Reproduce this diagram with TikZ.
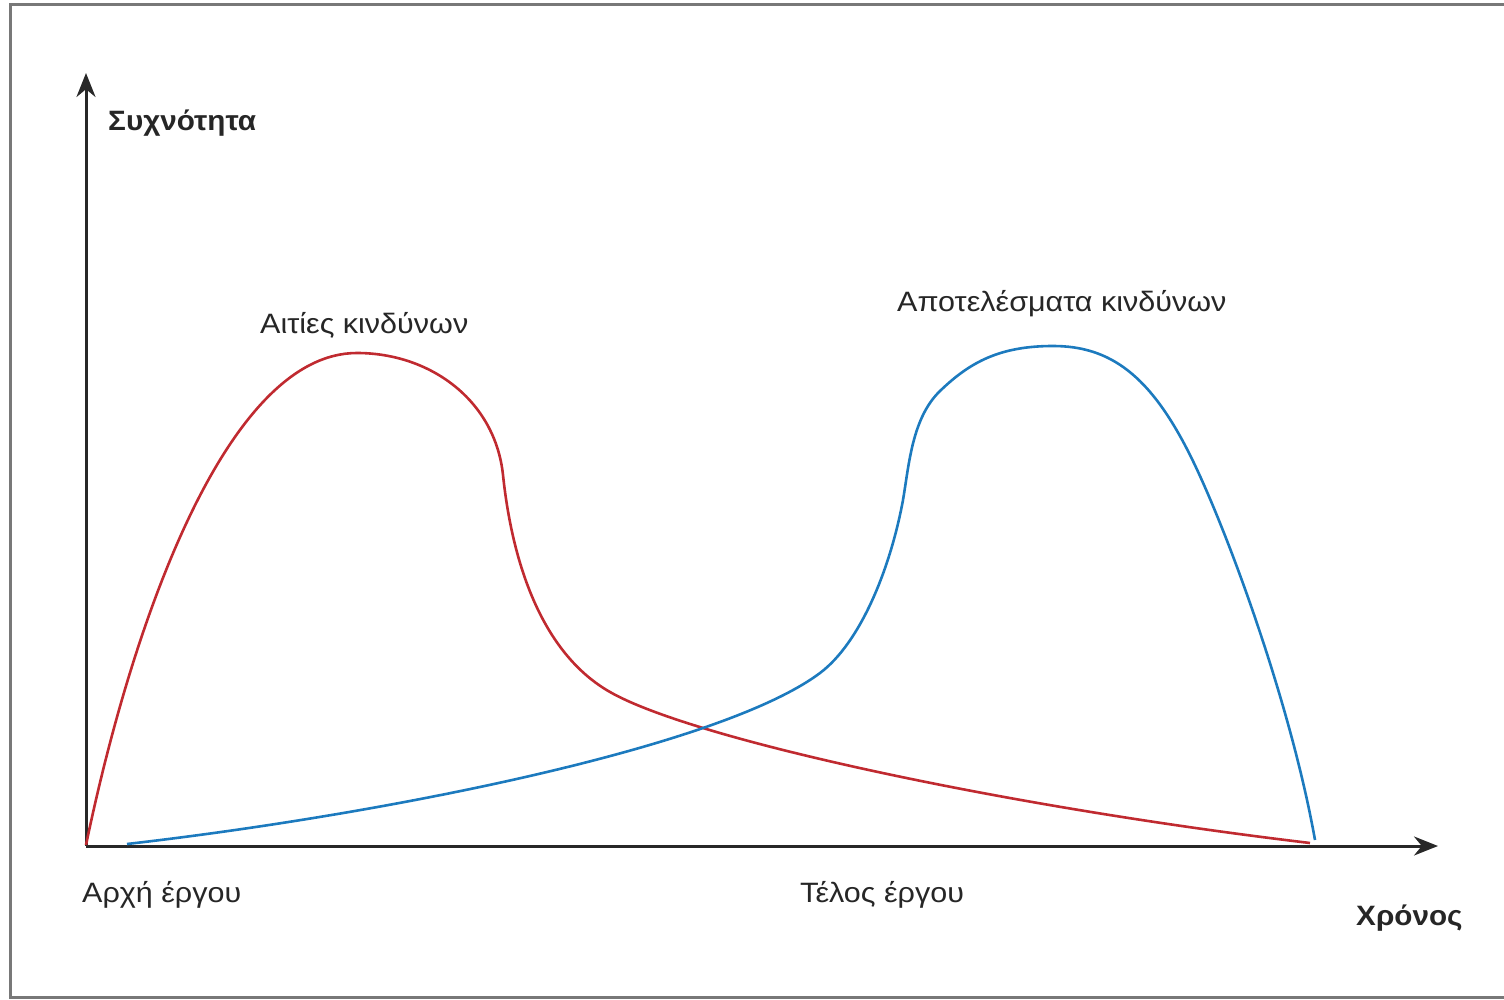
\documentclass[tikz,border=0pt]{standalone}
\usepackage{fontspec}
\setmainfont{Liberation Sans}[FakeStretch=1.09,BoldFeatures={FakeStretch=1.06}]
\usetikzlibrary{arrows.meta}
\definecolor{causered}{RGB}{192,42,48}
\definecolor{effectblue}{RGB}{28,122,190}
\definecolor{axisgray}{RGB}{40,40,40}
\definecolor{framegray}{RGB}{120,120,120}
\begin{document}
\begin{tikzpicture}[x=1pt,y=-1pt,
  axisline/.style={draw=axisgray,line width=3pt,-{Stealth[length=24pt,width=19pt]}},
  causecurve/.style={draw=causered,line width=2.6pt},
  effectcurve/.style={draw=effectblue,line width=2.6pt},
  lbl/.style={font=\fontsize{28}{34}\selectfont,text=black!85,inner sep=0pt,anchor=base west},
  boldlbl/.style={lbl,font=\fontsize{28}{34}\selectfont\bfseries}]
\useasboundingbox (0,0) rectangle (1504,1000);
% outer frame (open on the right)
\draw[framegray,line width=3pt] (1520,4.5) -- (10.5,4.5) -- (10.5,997) -- (1520,997);
% axes
\coordinate (o) at (86,846);
\coordinate (ytip) at (86,73);
\coordinate (xtip) at (1438,846);
\draw[axisline] (o) -- (ytip);
\draw[axisline] (o) -- (xtip);
% causes of risk
\coordinate (c0) at (86,845);
\coordinate (c1) at (357,353);
\coordinate (c2) at (503,475);
\coordinate (c3) at (610,692);
\coordinate (c4) at (1310,843);
\draw[causecurve]
  (c0) .. controls (135,610) and (230,353) .. (c1)
       .. controls (430,353) and (495,400) .. (c2)
       .. controls (513,570) and (545,655) .. (c3)
       .. controls (692,739) and (1000,806) .. (c4);
% effects of risk
\coordinate (e0) at (127,844);
\coordinate (e1) at (820,673);
\coordinate (e2) at (903,500);
\coordinate (e3) at (940,391);
\coordinate (e4) at (1053,346);
\coordinate (e5) at (1190,455);
\coordinate (e6) at (1315,840);
\draw[effectcurve]
  (e0) .. controls (380,815) and (720,748) .. (e1)
       .. controls (860,643) and (890,570) .. (e2)
       .. controls (909,465) and (912,418) .. (e3)
       .. controls (970,362) and (1000,346) .. (e4)
       .. controls (1110,346) and (1150,375) .. (e5)
       .. controls (1225,525) and (1290,700) .. (e6);
% labels
\node[boldlbl] (ylabel) at (108,131) {Συχνότητα};
\node[boldlbl] (xlabel) at (1356,925) {Χρόνος};
\node[lbl] (causes) at (260,333) {Αιτίες κινδύνων};
\node[lbl] (effects) at (897,312) {Αποτελέσματα κινδύνων};
\node[lbl] (start) at (82,902) {Αρχή έργου};
\node[lbl] (finish) at (800,902) {Τέλος έργου};
\end{tikzpicture}
\end{document}
